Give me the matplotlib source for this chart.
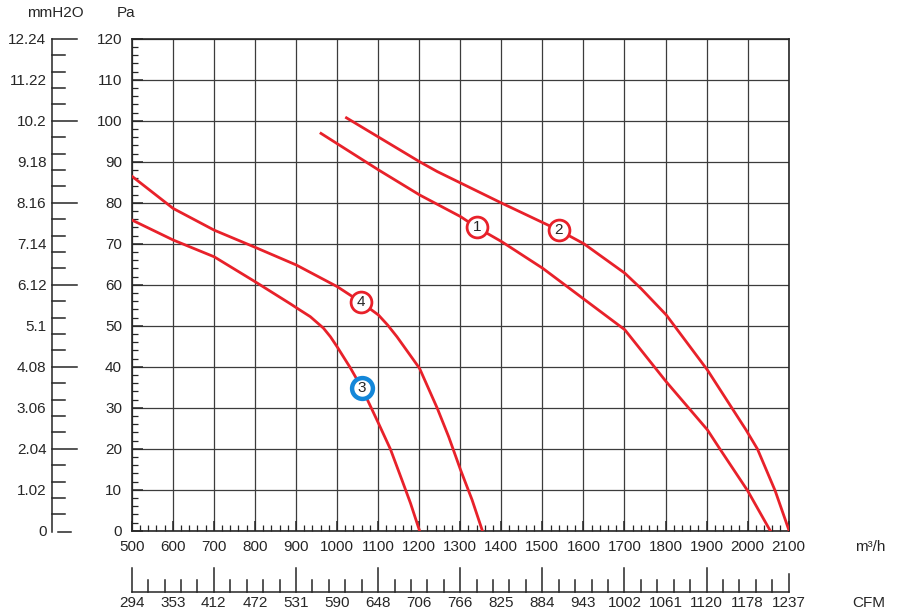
import matplotlib
matplotlib.use("Agg")
import matplotlib.pyplot as plt
import numpy as np

plt.rcParams["font.family"] = ["Liberation Sans", "DejaVu Sans"]

# fan curves (flow m3/h, pressure Pa)
q1 = [961, 1101, 1201, 1301, 1340, 1401, 1501, 1593, 1701, 1802, 1902, 1932, 2000, 2055]
p1 = [96.9, 88.0, 81.9, 76.6, 74.0, 70.5, 64.0, 57.1, 49.0, 36.3, 24.6, 20.0, 9.75, 0]

q2 = [1023, 1201, 1244, 1401, 1540, 1601, 1701, 1740, 1802, 1902, 1996, 2024, 2067, 2101]
p2 = [100.7, 90.0, 87.6, 79.9, 73.3, 70.0, 62.8, 59.1, 52.6, 39.2, 24.6, 19.9, 9.75, 0]

q3 = [500, 601, 701, 801, 887, 910, 935, 967, 984, 1000, 1032, 1061, 1101, 1130, 1158, 1179, 1201]
p3 = [75.8, 70.9, 66.8, 60.7, 55.3, 53.8, 52.2, 49.4, 47.3, 44.9, 39.8, 34.7, 26.2, 19.9, 12.4, 6.7, 0]

q4 = [500, 601, 701, 801, 901, 1001, 1059, 1101, 1123, 1146, 1201, 1244, 1272, 1301, 1329, 1354]
p4 = [86.5, 78.6, 73.3, 69.1, 64.8, 59.5, 55.7, 52.6, 50.2, 47.3, 39.6, 29.9, 22.9, 14.8, 7.5, 0]

curves = [(q1, p1), (q2, p2), (q3, p3), (q4, p4)]

# number badges on the curves
badge_names = ["1", "2", "3", "4"]
badge_q = [1340, 1540, 1060, 1059]
badge_p = [74.0, 73.3, 34.7, 55.7]

flow_ticks = list(range(500, 2101, 100))
cfm_labels = ["294", "353", "412", "472", "531", "590", "648", "706", "766",
              "825", "884", "943", "1002", "1061", "1120", "1178", "1237"]
pa_ticks = list(range(0, 121, 10))
mm_labels = ["0", "1.02", "2.04", "3.06", "4.08", "5.1", "6.12", "7.14",
             "8.16", "9.18", "10.2", "11.22", "12.24"]

RED = "#e8212a"
BLUE = "#1487d9"
INK = "#262626"
FS = 11
W, H = 900, 613


def fx(px):
    return px / W


def fy(py):
    return 1 - py / H


fig = plt.figure(figsize=(9, 6.13), dpi=100)

# main chart
left, right, top, bot = 131.7, 788.7, 38.7, 530.7
ax = fig.add_axes([fx(left), fy(bot), fx(right - left), (bot - top) / H])
ax.set_xlim(500, 2100)
ax.set_ylim(0, 120)
ax.set_xticks(flow_ticks)
ax.set_xticks(range(500, 2101, 20), minor=True)
ax.set_yticks(pa_ticks)
ax.set_yticks(range(0, 121, 2), minor=True)
ax.grid(True, which="major", color="#3c3c3c", linewidth=0.9)
ax.tick_params(which="both", direction="in", colors=INK, labelsize=FS,
               labelcolor=INK)
ax.tick_params(axis="x", which="major", length=7, width=1.1, pad=7)
ax.tick_params(axis="x", which="minor", length=4, width=0.9)
ax.tick_params(axis="y", which="major", length=8, width=1.1, pad=7)
ax.tick_params(axis="y", which="minor", length=4.5, width=0.9)
for s in ax.spines.values():
    s.set_linewidth(1.2)
    s.set_color(INK)

for q, p in curves:
    ax.plot(q, p, color=RED, linewidth=2.0, solid_joinstyle="round", zorder=3)

for name, bq, bp in zip(badge_names, badge_q, badge_p):
    edge = BLUE if name == "3" else RED
    mew = 3.2 if name == "3" else 2.0
    ax.plot(bq, bp, "o", ms=15, mfc="white", mec=edge, mew=mew, zorder=4)
    ax.text(bq, bp, name, ha="center", va="center", fontsize=FS,
            color=INK, zorder=5)

# mmH2O scale on the far left
ax_mm = fig.add_axes([fx(52), fy(bot), fx(30), (bot - top) / H])
ax_mm.set_xlim(0, 30)
ax_mm.set_ylim(0, 120)
for k in ["top", "right", "bottom"]:
    ax_mm.spines[k].set_visible(False)
ax_mm.spines["left"].set_color(INK)
ax_mm.spines["left"].set_linewidth(1.1)
ax_mm.spines["left"].set_bounds(-0.3, 120)
ax_mm.set_xticks([])
ax_mm.set_yticks(pa_ticks)
ax_mm.set_yticklabels(mm_labels)
ax_mm.tick_params(axis="y", length=0, pad=4, labelsize=FS, labelcolor=INK)
ax_mm.patch.set_alpha(0)
mm_marks = np.arange(4, 121, 4)
mm_len = [25 if m % 20 == 0 else 13 for m in mm_marks]
for m, ln in zip(mm_marks, mm_len):
    ax_mm.plot([0, ln], [m, m], color=INK, linewidth=1.1, clip_on=False)
ax_mm.plot([6, 18.7], [-0.3, -0.3], color=INK, linewidth=1.1, clip_on=False)

# CFM scale below
cfm_y = 592.3
ax_cfm = fig.add_axes([fx(left), fy(cfm_y), fx(right - left), 30 / H])
ax_cfm.set_xlim(500, 2100)
ax_cfm.set_ylim(0, 30)
for k in ["top", "right", "left"]:
    ax_cfm.spines[k].set_visible(False)
ax_cfm.spines["bottom"].set_color(INK)
ax_cfm.spines["bottom"].set_linewidth(1.1)
ax_cfm.set_yticks([])
ax_cfm.set_xticks(flow_ticks)
ax_cfm.set_xticklabels(cfm_labels)
ax_cfm.tick_params(axis="x", length=0, pad=3, labelsize=FS, labelcolor=INK)
ax_cfm.patch.set_alpha(0)
for v in range(500, 2101, 40):
    if v == 2100:
        h = 18
    elif (v - 500) % 200 == 0:
        h = 24
    else:
        h = 12
    ax_cfm.plot([v, v], [0, h], color=INK, linewidth=1.1, clip_on=False)

# axis names
fig.text(fx(55), fy(13), "mmH2O", ha="center", va="center", fontsize=FS, color=INK)
fig.text(fx(126), fy(13), "Pa", ha="center", va="center", fontsize=FS, color=INK)
fig.text(fx(870), fy(547), "m³/h", ha="center", va="center", fontsize=FS, color=INK)
fig.text(fx(869), fy(603), "CFM", ha="center", va="center", fontsize=FS, color=INK)

fig.savefig("out.png", dpi=100)
